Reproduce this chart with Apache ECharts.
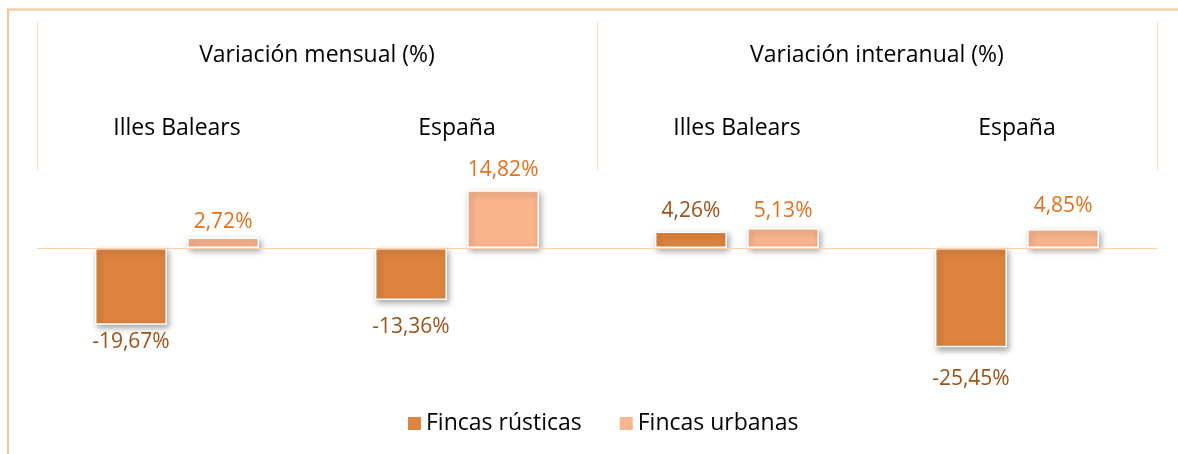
<!DOCTYPE html>
<html>
<head>
<meta charset="utf-8">
<script src="https://cdn.jsdelivr.net/npm/echarts@6/dist/echarts.min.js"></script>
<style>html,body{margin:0;padding:0;background:#fff}#c{width:1178px;height:454px}</style>
</head>
<body>
<div id="c"></div>
<script>
const groups = ['Variación mensual (%)', 'Variación interanual (%)'];
const regions = ['Illes Balears', 'España', 'Illes Balears', 'España'];
const seriesNames = ['Fincas rústicas', 'Fincas urbanas'];
const rusticas = [-19.67, -13.36, 4.26, -25.45];
const urbanas = [2.72, 14.82, 5.13, 4.85];

const FONT = 'Open Sans';
const fmt = v => v.toFixed(2).replace('.', ',') + '%';
// label offsets as placed in the original (style only)
const rusticaLabelDist = [7, 16, 10, 21];
const urbanaLabelDist = [5, 10, 6, 13];
const mk = (vals, color, dists) => vals.map((v, i) => ({
  value: v,
  label: { position: v < 0 ? 'bottom' : 'top', color: color, distance: dists[i] }
}));

const chart = echarts.init(document.getElementById('c'), null, {renderer: 'canvas'});
chart.setOption({
  animation: false,
  backgroundColor: '#fff',
  textStyle: { fontFamily: FONT },
  graphic: [{
    type: 'rect', silent: true,
    shape: { x: 8, y: 9.5, width: 1300, height: 600 },
    style: { fill: 'none', stroke: '#FAC292', lineWidth: 2 }
  }],
  grid: { left: 37, right: 21, top: 170, height: 195, containLabel: false },
  legend: {
    left: 408, top: 412, padding: 0,
    itemWidth: 13, itemHeight: 13, itemGap: 38,
    icon: 'rect',
    itemStyle: { borderWidth: 0, shadowBlur: 0, shadowOffsetX: 0, shadowOffsetY: 0 },
    textStyle: { fontFamily: FONT, fontSize: 23, color: '#000' },
    data: seriesNames
  },
  xAxis: [{
    type: 'category', position: 'top', gridIndex: 0,
    data: regions,
    axisLine: { show: false, onZero: false },
    axisTick: { show: false },
    axisLabel: { margin: 30, fontFamily: FONT, fontSize: 23, color: '#000' }
  }, {
    type: 'category', position: 'top', gridIndex: 0,
    data: groups,
    axisLine: { show: false, onZero: false },
    axisTick: { show: true, length: 148, lineStyle: { color: '#FBDCC2', width: 1 } },
    axisLabel: { margin: 103, fontFamily: FONT, fontSize: 23, color: '#000' }
  }],
  yAxis: { type: 'value', min: -30, max: 20, show: false, splitLine: { show: false } },
  series: [{
    name: seriesNames[0], type: 'bar', xAxisIndex: 0,
    data: mk(rusticas, '#9C5218', rusticaLabelDist),
    barWidth: 72, barGap: '28%',
    itemStyle: { color: '#DD8440', borderColor: '#fff', borderWidth: 1.5,
      shadowColor: 'rgba(0,0,0,0.35)', shadowBlur: 6, shadowOffsetX: 2, shadowOffsetY: 3 },
    label: { show: true, fontFamily: FONT, fontSize: 21, formatter: p => fmt(p.value) },
    markLine: {
      silent: true, symbol: 'none', label: { show: false },
      lineStyle: { color: '#FBCFA8', width: 1, type: 'solid' },
      data: [{ yAxis: 0 }]
    },
    z: 3
  }, {
    name: seriesNames[1], type: 'bar', xAxisIndex: 0,
    data: mk(urbanas, '#E2711D', urbanaLabelDist),
    barWidth: 72, barGap: '28%',
    itemStyle: { color: '#F8B58E', borderColor: '#fff', borderWidth: 1.5,
      shadowColor: 'rgba(0,0,0,0.35)', shadowBlur: 6, shadowOffsetX: 2, shadowOffsetY: 3 },
    label: { show: true, fontFamily: FONT, fontSize: 21, formatter: p => fmt(p.value) },
    z: 3
  }]
});
</script>
</body>
</html>
